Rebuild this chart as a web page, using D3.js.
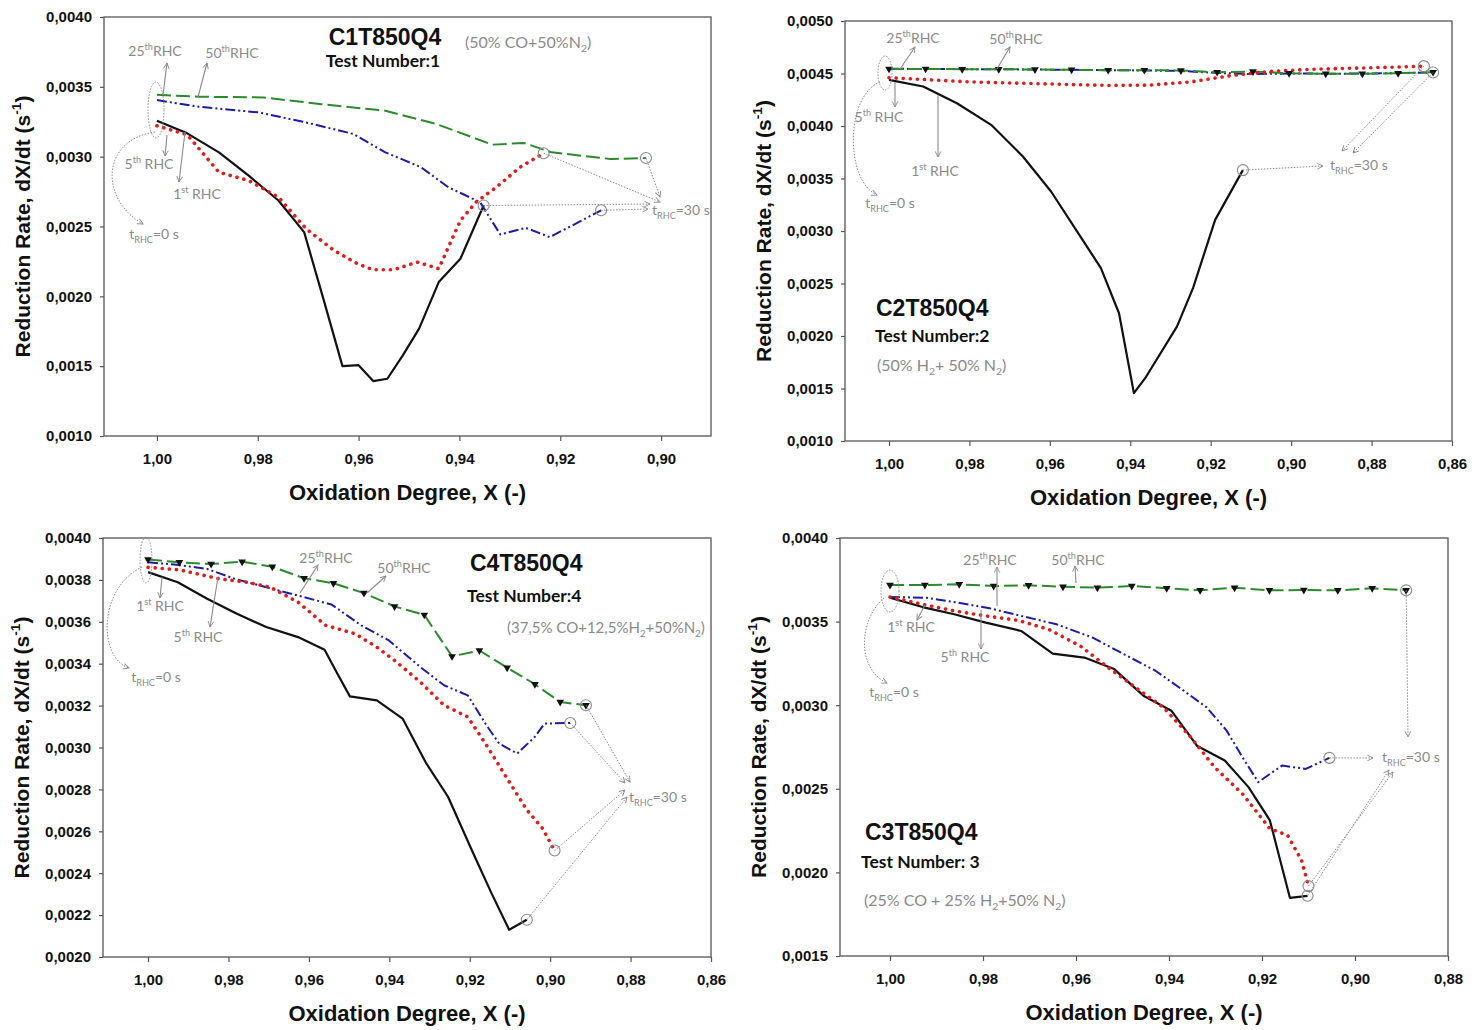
<!DOCTYPE html>
<html>
<head>
<meta charset="utf-8">
<script src="https://cdn.jsdelivr.net/npm/d3@7"></script>
<style>
  body { margin: 0; background: #fff; }
  svg { display: block; }
  .tick text { font-family: "Liberation Sans", Arial, sans-serif; font-weight: bold; font-size: 15px; fill: #111; }
  .tick line { stroke: #555; stroke-width: 1.2; }
  .axis-title { font-family: "Liberation Sans", Arial, sans-serif; font-weight: bold; font-size: 22px; fill: #111; }
  .note { font-family: Lato, "Open Sans", sans-serif; font-size: 14px; fill: #8a8a8a; }
  .title { font-family: "Liberation Sans", Arial, sans-serif; font-weight: bold; font-size: 23px; fill: #111; }
  .testnum { font-family: Lato, "Open Sans", sans-serif; font-weight: bold; font-size: 17.5px; fill: #111; }
  .gas { font-family: Lato, "Open Sans", sans-serif; font-size: 16px; fill: #8a8a8a; }
</style>
</head>
<body>
<svg id="chart" width="1484" height="1030"></svg>
<script>
// ---- data (oxidation degree X, reduction rate dX/dt) ----
// C1T850Q4, test 1
var c1_rhc1 = [[1.000,0.003257],[0.9940,0.003167],[0.9877,0.003031],[0.9818,0.002864],[0.9759,0.002686],[0.9708,0.002460],[0.9669,0.001971],[0.9632,0.001500],[0.9600,0.001507],[0.9571,0.001393],[0.9543,0.001410],[0.9512,0.001579],[0.9480,0.001769],[0.9441,0.002102],[0.9398,0.002269],[0.9352,0.002650]];
var c1_rhc5 = [[1.000,0.003221],[0.9940,0.003157],[0.9877,0.002888],[0.9818,0.002829],[0.9759,0.002710],[0.9704,0.002483],[0.9649,0.002329],[0.9602,0.002233],[0.9571,0.002190],[0.9531,0.002190],[0.9484,0.002245],[0.9441,0.002198],[0.9422,0.002352],[0.9398,0.002543],[0.9367,0.002674],[0.9327,0.002781],[0.9280,0.002924],[0.9233,0.003025]];
var c1_rhc25 = [[1.000,0.003405],[0.9916,0.003357],[0.9798,0.003317],[0.9704,0.003245],[0.9610,0.003162],[0.9547,0.003031],[0.9476,0.002924],[0.9422,0.002781],[0.9359,0.002674],[0.9319,0.002443],[0.9268,0.002490],[0.9221,0.002424],[0.9170,0.002519],[0.9119,0.002616]];
var c1_rhc50 = [[1.000,0.003443],[0.9916,0.003429],[0.9790,0.003424],[0.9673,0.003376],[0.9547,0.003329],[0.9445,0.003233],[0.9335,0.003086],[0.9272,0.003098],[0.9217,0.003031],[0.9100,0.002983],[0.9030,0.002990]];

// C2T850Q4, test 2
var c2_rhc1 = [[1.000,0.004440],[0.9915,0.004376],[0.9831,0.004217],[0.9746,0.004011],[0.9667,0.003710],[0.9597,0.003376],[0.9532,0.002995],[0.9473,0.002646],[0.9428,0.002217],[0.9391,0.001456],[0.9363,0.001598],[0.9284,0.002090],[0.9244,0.002456],[0.9189,0.003106],[0.9120,0.003580]];
var c2_rhc5 = [[1.000,0.004460],[0.990,0.004440],[0.980,0.004420],[0.970,0.004410],[0.960,0.004400],[0.950,0.004390],[0.945,0.004386],[0.935,0.004390],[0.925,0.004420],[0.915,0.004480],[0.905,0.004520],[0.895,0.004540],[0.885,0.004550],[0.875,0.004560],[0.867,0.004570]];
var c2_rhc25 = [[1.000,0.004545],[0.985,0.004542],[0.970,0.004540],[0.955,0.004535],[0.940,0.004530],[0.928,0.004525],[0.918,0.004505],[0.910,0.004495],[0.900,0.004500],[0.890,0.004498],[0.880,0.004500],[0.8647,0.004510]];
var c2_rhc50 = [[1.000,0.004544],[0.9909,0.004544],[0.9818,0.004541],[0.9727,0.004541],[0.9637,0.004538],[0.9546,0.004535],[0.9455,0.004532],[0.9365,0.004532],[0.9274,0.004529],[0.9184,0.004513],[0.9095,0.004519],[0.9005,0.004503],[0.8914,0.004497],[0.8823,0.004497],[0.8734,0.004503],[0.8647,0.004513]];

// C4T850Q4, test 4
var c4_rhc1 = [[1.000,0.003837],[0.9926,0.003789],[0.9853,0.003710],[0.9779,0.003638],[0.9706,0.003575],[0.9627,0.003527],[0.9561,0.003467],[0.9529,0.003352],[0.9498,0.003244],[0.9431,0.003225],[0.9367,0.003138],[0.9308,0.002924],[0.9254,0.002765],[0.9195,0.002511],[0.9146,0.002305],[0.9102,0.002130],[0.9058,0.002178]];
var c4_rhc5 = [[1.000,0.003860],[0.9922,0.003848],[0.9823,0.003805],[0.9755,0.003789],[0.9696,0.003765],[0.9627,0.003694],[0.9558,0.003583],[0.9485,0.003543],[0.9431,0.003479],[0.9387,0.003416],[0.9323,0.003313],[0.9264,0.003202],[0.9205,0.003146],[0.9161,0.003019],[0.9107,0.002852],[0.9058,0.002702],[0.9019,0.002614],[0.8989,0.002508]];
var c4_rhc25 = [[1.000,0.003884],[0.9922,0.003871],[0.9853,0.003852],[0.9784,0.003805],[0.9706,0.003765],[0.9627,0.003725],[0.9544,0.003683],[0.9470,0.003583],[0.9401,0.003511],[0.9323,0.003384],[0.9264,0.003297],[0.9205,0.003249],[0.9161,0.003114],[0.9127,0.003019],[0.9082,0.002971],[0.9038,0.003051],[0.9014,0.003114],[0.8950,0.003117]];
var c4_rhc50 = [[1.000,0.003897],[0.9922,0.003884],[0.9843,0.003876],[0.9766,0.003887],[0.9691,0.003863],[0.9612,0.003808],[0.9539,0.003784],[0.9463,0.003737],[0.9387,0.003673],[0.9313,0.003633],[0.9244,0.003435],[0.9176,0.003463],[0.9107,0.003381],[0.9038,0.003302],[0.8975,0.003217],[0.8911,0.003202]];

// C3T850Q4, test 3
var c3_rhc1 = [[1.000,0.003643],[0.9930,0.003587],[0.9862,0.003544],[0.9794,0.003494],[0.9718,0.003444],[0.9650,0.003309],[0.9582,0.003285],[0.9518,0.003216],[0.9455,0.003057],[0.9395,0.002967],[0.9340,0.002758],[0.9280,0.002669],[0.9229,0.002510],[0.9183,0.002311],[0.9140,0.001848],[0.9102,0.001860]];
var c3_rhc5 = [[1.000,0.003647],[0.9930,0.003603],[0.9862,0.003564],[0.9794,0.003534],[0.9726,0.003508],[0.9659,0.003454],[0.9591,0.003355],[0.9531,0.003226],[0.9472,0.003106],[0.9412,0.002987],[0.9353,0.002808],[0.9302,0.002629],[0.9242,0.002470],[0.9183,0.002261],[0.9145,0.002222],[0.9115,0.002073],[0.9100,0.001918]];
var c3_rhc25 = [[1.000,0.003647],[0.9922,0.003643],[0.9854,0.003613],[0.9786,0.003580],[0.9718,0.003534],[0.9642,0.003484],[0.9565,0.003405],[0.9497,0.003305],[0.9429,0.003206],[0.9378,0.003106],[0.9319,0.002987],[0.9276,0.002848],[0.9242,0.002689],[0.9208,0.002540],[0.9157,0.002639],[0.9106,0.002619],[0.9055,0.002685]];
var c3_rhc50 = [[1.000,0.003719],[0.9925,0.003719],[0.9851,0.003723],[0.9777,0.003713],[0.9702,0.003717],[0.9628,0.003709],[0.9554,0.003703],[0.9480,0.003713],[0.9405,0.003699],[0.9333,0.003687],[0.9259,0.003703],[0.9184,0.003687],[0.9110,0.003689],[0.9037,0.003687],[0.8963,0.003699],[0.8890,0.003687]];

// ticks
var xTicks1 = [1.00, 0.98, 0.96, 0.94, 0.92, 0.90];
var xTicks2 = [1.00, 0.98, 0.96, 0.94, 0.92, 0.90, 0.88, 0.86];
var xTicks4 = [1.00, 0.98, 0.96, 0.94, 0.92, 0.90, 0.88];
var yTicks1 = [0.0010, 0.0015, 0.0020, 0.0025, 0.0030, 0.0035, 0.0040];
var yTicks2 = [0.0010, 0.0015, 0.0020, 0.0025, 0.0030, 0.0035, 0.0040, 0.0045, 0.0050];
var yTicks3 = [0.0020, 0.0022, 0.0024, 0.0026, 0.0028, 0.0030, 0.0032, 0.0034, 0.0036, 0.0038, 0.0040];
var yTicks4 = [0.0015, 0.0020, 0.0025, 0.0030, 0.0035, 0.0040];

var styles = {
  rhc1:  { stroke: "#111",    width: 2.2, dash: null },
  rhc25: { stroke: "#1c1ca6", width: 2,   dash: "10 3 2 3 2 3" },
  rhc50: { stroke: "#2b8a2b", width: 2,   dash: "14 5" },
  rhc5:  { stroke: "#e01b1b", width: 3.6, dash: "0.1 7", cap: "round" }
};
var drawOrder = ["rhc1", "rhc25", "rhc50", "rhc5"];

var sup = function(a, b, c) { return [[a], [b, "sup"], [c]]; };
var tSub = function(v) { return [["t"], ["RHC", "sub"], ["=" + v + " s"]]; };

var panels = [
  { left: 104, top: 17, right: 711, bottom: 436, xDomain: [1.0105, 0.8901], yDomain: [0.001, 0.004],
    xTicks: xTicks1, yTicks: yTicks1, markers: false,
    series: { rhc1: c1_rhc1, rhc5: c1_rhc5, rhc25: c1_rhc25, rhc50: c1_rhc50 },
    ellipse: [52, 93, 8, 28],
    labels: [
      { x: 51, y: 39, parts: sup("25", "th", "RHC") },
      { x: 128, y: 41, parts: sup("50", "th", "RHC") },
      { x: 45, y: 152, parts: sup("5", "th", " RHC") },
      { x: 93, y: 182, parts: sup("1", "st", " RHC") },
      { x: 50, y: 222, parts: tSub("0") },
      { x: 548, y: 198, anchor: "start", parts: tSub("30") }
    ],
    arrows: [[59, 78, 63, 46], [94, 80, 103, 46], [63, 118, 61, 139], [81, 115, 75, 165]],
    curve: "M51,115 C-4,123 -4,183 39,207",
    endArrows: [["rhc5", 556, 185], ["rhc50", 556, 180], ["rhc1", 546, 187], ["rhc25", 544, 192]],
    endCircles: ["rhc1", "rhc5", "rhc25", "rhc50"],
    texts: [
      { cls: "title", x: 281, y: 28, anchor: "middle", parts: [["C1T850Q4"]] },
      { cls: "testnum", x: 279, y: 50, anchor: "middle", parts: [["Test Number:1"]] },
      { cls: "gas", x: 361, y: 31, anchor: "start", size: 16, parts: [["(50% CO+50%N"], ["2", "sub"], [")"]] }
    ] },
  { left: 845, top: 21, right: 1452, bottom: 441, xDomain: [1.01094, 0.86], yDomain: [0.001, 0.005],
    xTicks: xTicks2, yTicks: yTicks2, markers: true,
    series: { rhc1: c2_rhc1, rhc5: c2_rhc5, rhc25: c2_rhc25, rhc50: c2_rhc50 },
    ellipse: [40, 52, 7, 17],
    labels: [
      { x: 68, y: 22, parts: sup("25", "th", "RHC") },
      { x: 171, y: 23, parts: sup("50", "th", "RHC") },
      { x: 34, y: 101, parts: sup("5", "th", " RHC") },
      { x: 90, y: 155, parts: sup("1", "st", " RHC") },
      { x: 45, y: 187, parts: tSub("0") },
      { x: 485, y: 149, anchor: "start", parts: tSub("30") }
    ],
    arrows: [[55, 48, 70, 26], [152, 48, 165, 26], [50, 61, 50, 86], [93, 74, 93, 136]],
    curve: "M35,61 C0,75 0,160 32,174",
    endArrows: [["rhc1", 478, 145], ["rhc5", 497, 130], ["rhc25", 508, 132]],
    endCircles: ["rhc1", "rhc5", "rhc25"],
    texts: [
      { cls: "title", x: 31, y: 295, anchor: "start", parts: [["C2T850Q4"]] },
      { cls: "testnum", x: 30, y: 321, anchor: "start", parts: [["Test Number:2"]] },
      { cls: "gas", x: 32, y: 350, anchor: "start", size: 16, parts: [["(50% H"], ["2", "sub"], ["+ 50% N"], ["2", "sub"], [")"]] }
    ] },
  { left: 103, top: 538, right: 711, bottom: 957, xDomain: [1.0112, 0.86], yDomain: [0.002, 0.004],
    xTicks: xTicks2, yTicks: yTicks3, markers: true,
    series: { rhc1: c4_rhc1, rhc5: c4_rhc5, rhc25: c4_rhc25, rhc50: c4_rhc50 },
    ellipse: [43, 22, 6, 23],
    labels: [
      { x: 223, y: 25, parts: sup("25", "th", "RHC") },
      { x: 301, y: 35, parts: sup("50", "th", "RHC") },
      { x: 57, y: 73, parts: sup("1", "st", " RHC") },
      { x: 95, y: 104, parts: sup("5", "th", " RHC") },
      { x: 53, y: 144, parts: tSub("0") },
      { x: 526, y: 264, anchor: "start", parts: tSub("30") }
    ],
    arrows: [[197, 55, 215, 27], [264, 55, 283, 38], [59, 39, 57, 60], [115, 39, 107, 89]],
    curve: "M39,29 C-5,50 -5,120 26,130",
    endArrows: [["rhc50", 527, 244], ["rhc25", 522, 245], ["rhc5", 522, 252], ["rhc1", 524, 259]],
    endCircles: ["rhc1", "rhc5", "rhc25", "rhc50"],
    texts: [
      { cls: "title", x: 367, y: 33, anchor: "start", parts: [["C4T850Q4"]] },
      { cls: "testnum", x: 364, y: 64, anchor: "start", parts: [["Test Number:4"]] },
      { cls: "gas", x: 404, y: 95, anchor: "start", size: 15, parts: [["(37,5% CO+12,5%H"], ["2", "sub"], ["+50%N"], ["2", "sub"], [")"]] }
    ] },
  { left: 840, top: 538, right: 1448, bottom: 956, xDomain: [1.01075, 0.88], yDomain: [0.0015, 0.004],
    xTicks: xTicks4, yTicks: yTicks4, markers: true,
    series: { rhc1: c3_rhc1, rhc5: c3_rhc5, rhc25: c3_rhc25, rhc50: c3_rhc50 },
    ellipse: [50, 53, 9, 21],
    labels: [
      { x: 150, y: 27, parts: sup("25", "th", "RHC") },
      { x: 238, y: 27, parts: sup("50", "th", "RHC") },
      { x: 71, y: 94, parts: sup("1", "st", " RHC") },
      { x: 125, y: 124, parts: sup("5", "th", " RHC") },
      { x: 54, y: 159, parts: tSub("0") },
      { x: 542, y: 224, anchor: "start", parts: tSub("30") }
    ],
    arrows: [[157, 68, 157, 29], [236, 45, 235, 28], [85, 67, 77, 82], [141, 72, 141, 111]],
    curve: "M44,60 C20,80 15,130 47,145",
    endArrows: [["rhc50", 568, 199], ["rhc25", 533, 220], ["rhc5", 553, 234], ["rhc1", 549, 232]],
    endCircles: ["rhc1", "rhc5", "rhc25", "rhc50"],
    texts: [
      { cls: "title", x: 25, y: 302, anchor: "start", parts: [["C3T850Q4"]] },
      { cls: "testnum", x: 21, y: 330, anchor: "start", parts: [["Test Number: 3"]] },
      { cls: "gas", x: 24, y: 368, anchor: "start", size: 16, parts: [["(25% CO + 25% H"], ["2", "sub"], ["+50% N"], ["2", "sub"], [")"]] }
    ] }
];

var svg = d3.select("#chart");
var grey = "#8a8a8a";

var defs = svg.append("defs");
defs.append("marker").attr("id", "ah")
  .attr("viewBox", "0 0 10 10").attr("refX", 9).attr("refY", 5)
  .attr("markerWidth", 7).attr("markerHeight", 7)
  .attr("markerUnits", "userSpaceOnUse").attr("orient", "auto")
  .append("path").attr("d", "M1,1 L9,5 L1,9")
  .attr("fill", "none").attr("stroke", grey).attr("stroke-width", 1.3);

function richText(sel, parts, size) {
  var shift = 0;
  parts.forEach(function(p) {
    var target = p[1] === "sup" ? -size * 0.42 : p[1] === "sub" ? size * 0.25 : 0;
    var t = sel.append("tspan").text(p[0]).attr("dy", target - shift);
    if (p[1]) t.attr("font-size", size * 0.65);
    shift = target;
  });
}

var fmtX = function(d) { return d3.format(".2f")(d).replace(".", ","); };
var fmtY = function(d) { return d3.format(".4f")(d).replace(".", ","); };

function drawPanel(p) {
  var w = p.right - p.left, h = p.bottom - p.top;
  var g = svg.append("g").attr("transform", "translate(" + p.left + "," + p.top + ")");
  var x = d3.scaleLinear().domain(p.xDomain).range([0, w]);
  var y = d3.scaleLinear().domain(p.yDomain).range([h, 0]);

  var gx = g.append("g").attr("transform", "translate(0," + h + ")")
    .call(d3.axisBottom(x).tickValues(p.xTicks).tickFormat(fmtX).tickSize(5).tickPadding(12));
  var gy = g.append("g")
    .call(d3.axisLeft(y).tickValues(p.yTicks).tickFormat(fmtY).tickSize(4).tickPadding(8));
  gx.select(".domain").remove();
  gy.select(".domain").remove();
  gx.selectAll("text").attr("font-family", null).attr("font-size", null);
  gy.selectAll("text").attr("font-family", null).attr("font-size", null);

  g.append("rect").attr("width", w).attr("height", h)
    .attr("fill", "none").attr("stroke", "#555").attr("stroke-width", 1.3);

  svg.append("text").attr("class", "axis-title")
    .attr("x", p.left + w / 2).attr("y", p.bottom + 64).attr("text-anchor", "middle")
    .text("Oxidation Degree, X (-)");
  var yt = svg.append("text").attr("class", "axis-title").style("font-size", "21px")
    .attr("text-anchor", "middle")
    .attr("transform", "translate(" + (p.left - 74) + "," + (p.top + h / 2) + ") rotate(-90)");
  richText(yt, [["Reduction Rate, dX/dt (s"], ["-1", "sup"], [")"]], 21);

  var line = d3.line().x(function(d) { return x(d[0]); }).y(function(d) { return y(d[1]); });
  drawOrder.forEach(function(k) {
    var s = styles[k];
    g.append("path").datum(p.series[k]).attr("d", line)
      .attr("fill", "none").attr("stroke", s.stroke).attr("stroke-width", s.width)
      .attr("stroke-dasharray", s.dash).attr("stroke-linecap", s.cap || "butt")
      .attr("stroke-linejoin", "round");
  });

  if (p.markers) {
    g.selectAll(".tri").data(p.series.rhc50).enter().append("path")
      .attr("d", d3.symbol(d3.symbolTriangle, 26))
      .attr("transform", function(d) { return "translate(" + x(d[0]) + "," + y(d[1]) + ") rotate(180)"; })
      .attr("fill", "#111");
  }

  // annotations
  var a = g.append("g");
  a.append("ellipse").attr("cx", p.ellipse[0]).attr("cy", p.ellipse[1])
    .attr("rx", p.ellipse[2]).attr("ry", p.ellipse[3])
    .attr("fill", "none").attr("stroke", grey).attr("stroke-width", 1).attr("stroke-dasharray", "1.5 1.5");

  p.arrows.forEach(function(r) {
    a.append("line").attr("x1", r[0]).attr("y1", r[1]).attr("x2", r[2]).attr("y2", r[3])
      .attr("stroke", grey).attr("stroke-width", 1.1).attr("marker-end", "url(#ah)");
  });
  a.append("path").attr("d", p.curve).attr("fill", "none")
    .attr("stroke", grey).attr("stroke-width", 1).attr("stroke-dasharray", "1.5 1.5")
    .attr("marker-end", "url(#ah)");

  p.endCircles.forEach(function(k) {
    var d = p.series[k][p.series[k].length - 1];
    a.append("circle").attr("cx", x(d[0])).attr("cy", y(d[1])).attr("r", 5.5)
      .attr("fill", "none").attr("stroke", grey).attr("stroke-width", 1.1);
  });
  p.endArrows.forEach(function(r) {
    var d = p.series[r[0]][p.series[r[0]].length - 1];
    a.append("line").attr("x1", x(d[0])).attr("y1", y(d[1])).attr("x2", r[1]).attr("y2", r[2])
      .attr("stroke", grey).attr("stroke-width", 1).attr("stroke-dasharray", "1.5 1.5")
      .attr("marker-end", "url(#ah)");
  });

  p.labels.forEach(function(l) {
    var t = a.append("text").attr("class", "note").attr("x", l.x).attr("y", l.y)
      .attr("text-anchor", l.anchor || "middle");
    richText(t, l.parts, 14);
  });
  p.texts.forEach(function(l) {
    var size = l.size || (l.cls === "title" ? 23 : 17.5);
    var t = a.append("text").attr("class", l.cls).attr("x", l.x).attr("y", l.y)
      .attr("text-anchor", l.anchor).style("font-size", size + "px");
    richText(t, l.parts, size);
  });
}

panels.forEach(drawPanel);
</script>
</body>
</html>
